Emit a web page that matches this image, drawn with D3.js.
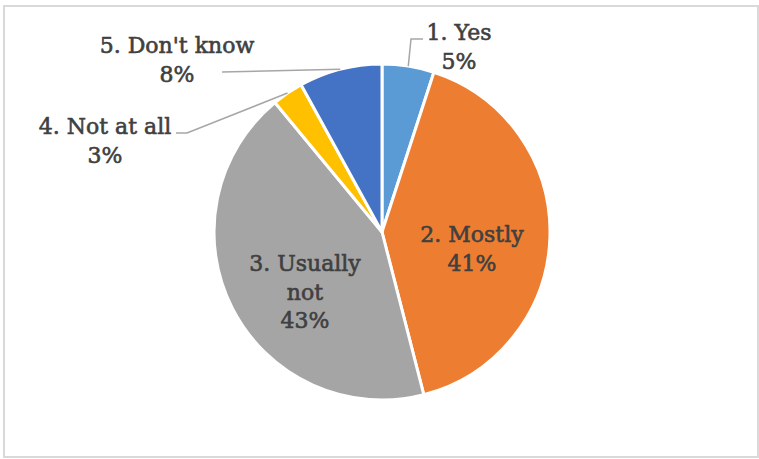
<!DOCTYPE html>
<html>
<head>
<meta charset="utf-8">
<script src="https://cdn.jsdelivr.net/npm/d3@7"></script>
<style>
  html, body { margin: 0; padding: 0; background: #fff; }
  svg { display: block; }
</style>
</head>
<body>
<svg id="chart" width="759" height="459"></svg>
<script>
// Survey answers, in the order they sit around the pie (clockwise from 12 o'clock)
const categories = ["1. Yes", "2. Mostly", "3. Usually not", "4. Not at all", "5. Don't know"];
const shares = [5, 41, 43, 3, 8];
const sliceColors = ["#5b9bd5", "#ed7d31", "#a5a5a5", "#ffc000", "#4472c4"];
// Label lines as they are broken onto rows
const labelRows = [["1. Yes"], ["2. Mostly"], ["3. Usually", "not"], ["4. Not at all"], ["5. Don't know"]];

const W = 759, H = 459;
const cx = 382, cy = 232, R = 168;

const svg = d3.select("#chart");

// chart-area frame
svg.append("rect")
  .attr("x", 4).attr("y", 6)
  .attr("width", W - 5).attr("height", H - 8)
  .attr("fill", "#fff")
  .attr("stroke", "#d9d9d9")
  .attr("stroke-width", 2);

const color = d3.scaleOrdinal().domain(categories).range(sliceColors);

const pie = d3.pie().sort(null).value(d => d.value);
const data = categories.map((c, i) => ({ name: c, value: shares[i], rows: labelRows[i] }));
const arcs = pie(data);
const total = d3.sum(shares);

const arc = d3.arc().innerRadius(0).outerRadius(R);

const g = svg.append("g").attr("transform", `translate(${cx},${cy})`);

g.selectAll("path.slice")
  .data(arcs)
  .join("path")
  .attr("class", "slice")
  .attr("d", arc)
  .attr("fill", d => color(d.data.name))
  .attr("stroke", "#fff")
  .attr("stroke-width", 3)
  .attr("stroke-linejoin", "round");

// label placement; outside labels get a leader line from the slice edge
const placement = {
  "1. Yes":        { x: 459, y: 40, leader: [[411, 39], [423, 39]] },
  "2. Mostly":     { x: 472, y: 242 },
  "3. Usually not":{ x: 305, y: 271 },
  "4. Not at all": { x: 105, y: 134, leader: [[187, 133], [176, 133]] },
  "5. Don't know": { x: 177, y: 53,  leader: [[222, 72]] }
};

const edgePoint = d => {
  const a = (d.startAngle + d.endAngle) / 2;
  return [cx + R * Math.sin(a), cy - R * Math.cos(a)];
};

const lineGen = d3.line();
arcs.forEach(d => {
  const p = placement[d.data.name];
  if (p.leader) {
    svg.append("path")
      .attr("d", lineGen([edgePoint(d), ...p.leader]))
      .attr("fill", "none")
      .attr("stroke", "#a6a6a6")
      .attr("stroke-width", 1.5);
  }
});

const lineStep = 28.5;
arcs.forEach(d => {
  const p = placement[d.data.name];
  const pct = Math.round(d.value / total * 100) + "%";
  const rows = [...d.data.rows, pct];
  const t = svg.append("text")
    .attr("text-anchor", "middle")
    .attr("font-family", "'DejaVu Serif', serif")
    .attr("font-size", 22)
    .attr("fill", "#404040")
    .attr("stroke", "#404040")
    .attr("stroke-width", 0.6);
  rows.forEach((r, i) => {
    t.append("tspan").attr("x", p.x).attr("y", p.y + i * lineStep).text(r);
  });
});
</script>
</body>
</html>
